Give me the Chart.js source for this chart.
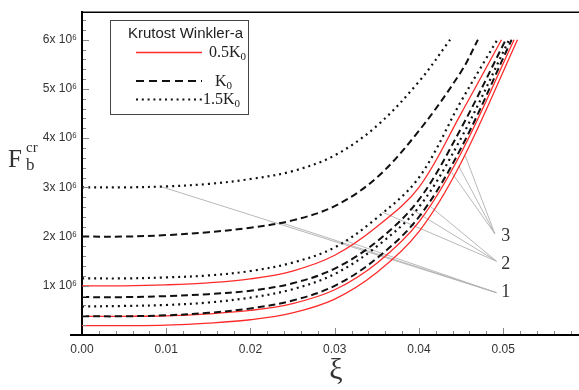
<!DOCTYPE html>
<html>
<head>
<meta charset="utf-8">
<script src="https://cdn.jsdelivr.net/npm/chart.js@4.4.1/dist/chart.umd.min.js"></script>
<style>
  html, body { margin: 0; padding: 0; background: #fff; }
</style>
</head>
<body>
<canvas id="chart" width="579" height="390"></canvas>
<script>
// xi grid shared by all curves; each curve ends where it reaches F = 6 x 10^6
const xi = [0, 0.005, 0.01, 0.015, 0.02, 0.025, 0.03, 0.035, 0.04, 0.045];
const fTop = 6.0;

// critical force, in units of 10^6
const curveA = [3.00, 3.00, 3.02, 3.07, 3.17, 3.33, 3.65, 4.25, 5.15];        // 1.5K0
const curveB = [2.00, 2.00, 2.03, 2.09, 2.18, 2.33, 2.62, 3.20, 4.15, 5.35];  // K0
const curveC = [1.15, 1.15, 1.17, 1.21, 1.30, 1.47, 1.78, 2.38, 3.20, 4.75];  // 1.5K0
const curveD = [1.00, 1.00, 1.02, 1.06, 1.14, 1.30, 1.62, 2.20, 3.00, 4.50];  // 0.5K0
const curveE = [0.77, 0.77, 0.79, 0.83, 0.90, 1.05, 1.35, 1.90, 2.75, 4.20];  // K0
const curveF = [0.58, 0.59, 0.61, 0.66, 0.76, 0.93, 1.24, 1.80, 2.60, 4.00];  // 1.5K0
const curveG = [0.38, 0.38, 0.40, 0.45, 0.54, 0.70, 1.00, 1.56, 2.40, 3.80];  // K0
const curveH = [0.38, 0.38, 0.39, 0.43, 0.50, 0.64, 0.92, 1.46, 2.30, 3.70];  // 0.5K0
const curveI = [0.19, 0.19, 0.20, 0.24, 0.31, 0.45, 0.73, 1.27, 2.10, 3.50];  // 0.5K0
const xiEnd = [0.0437, 0.047, 0.0493, 0.0498, 0.0503, 0.0507, 0.0510, 0.0513, 0.0517];
const kinds = ['dot', 'dash', 'dot', 'red', 'dash', 'dot', 'dash', 'red', 'red'];

// leader lines: start points on curves, then label anchor
const lead1 = [[0.0093, 3.02], [0.0235, 2.29], [0.0312, 1.92]];
const lead2 = [[0.0356, 2.50], [0.0389, 2.58], [0.0413, 2.62]];
const lead3 = [[0.0439, 3.30], [0.0447, 3.44], [0.0455, 3.64]];
const leadEnds = [[0.0492, 0.86], [0.0492, 1.50], [0.0490, 2.06]];
const leadLabels = ['1', '2', '3'];
const labelPos = [[0.0503, 0.86], [0.0503, 1.44], [0.0503, 2.00]];

const xTicks = [0, 0.01, 0.02, 0.03, 0.04, 0.05];
const yTicks = [0, 1, 2, 3, 4, 5, 6];

const styles = {
  red:  { borderColor: '#ff2b2b', borderWidth: 1.3, borderDash: [] },
  dash: { borderColor: '#111', borderWidth: 2, borderDash: [7, 4] },
  dot:  { borderColor: '#111', borderWidth: 2.2, borderDash: [2, 4] },
};

function toPoints(vals, end) {
  const pts = vals.map((v, i) => ({ x: xi[i], y: v }));
  pts.push({ x: end, y: fTop });
  return pts;
}

const curves = [curveA, curveB, curveC, curveD, curveE, curveF, curveG, curveH, curveI];
const datasets = curves.map((vals, i) => Object.assign({
  data: toPoints(vals, xiEnd[i]),
  pointRadius: 0,
  fill: false,
  tension: 0.35,
}, styles[kinds[i]]));

[lead1, lead2, lead3].forEach((group, g) => {
  group.forEach(p => {
    datasets.push({
      data: [{ x: p[0], y: p[1] }, { x: leadEnds[g][0], y: leadEnds[g][1] }],
      borderColor: '#b0b0b0',
      borderWidth: 0.9,
      pointRadius: 0,
      fill: false,
    });
  });
});

const SANS = '"Liberation Sans", Arial, sans-serif';
const SERIF = '"Liberation Serif", "Times New Roman", serif';

const decor = {
  id: 'decor',
  afterDraw(chart) {
    const { ctx, chartArea: a, scales: { x, y } } = chart;
    ctx.save();

    // top frame line and short stub of x axis left of origin
    ctx.strokeStyle = '#000';
    ctx.lineWidth = 1.5;
    ctx.beginPath(); ctx.moveTo(a.left, a.top); ctx.lineTo(a.right, a.top); ctx.stroke();
    ctx.lineWidth = 2;
    ctx.beginPath(); ctx.moveTo(a.left - 12, a.bottom); ctx.lineTo(a.left, a.bottom); ctx.stroke();

    // inward ticks, major + minor
    ctx.strokeStyle = '#888';
    ctx.lineWidth = 1;
    for (let i = 1; i * 0.002 <= x.max; i++) {
      const px = Math.round(x.getPixelForValue(i * 0.002)) + 0.5;
      const len = i % 5 === 0 ? 6 : 3;
      ctx.beginPath(); ctx.moveTo(px, a.bottom - 1); ctx.lineTo(px, a.bottom - 1 - len); ctx.stroke();
    }
    for (let i = 1; i * 0.2 <= y.max; i++) {
      const py = Math.round(y.getPixelForValue(i * 0.2)) + 0.5;
      const len = i % 5 === 0 ? 6 : 3;
      ctx.beginPath(); ctx.moveTo(a.left + 1, py); ctx.lineTo(a.left + 1 + len, py); ctx.stroke();
    }

    // axis titles
    ctx.fillStyle = '#333';
    ctx.textBaseline = 'alphabetic';
    ctx.textAlign = 'left';
    ctx.font = '25px ' + SERIF;
    ctx.fillText('F', 8, 167);
    ctx.font = '15px ' + SERIF;
    ctx.fillText('cr', 26, 152);
    ctx.font = '17px ' + SERIF;
    ctx.fillText('b', 26, 170);
    ctx.font = '30px ' + SERIF;
    ctx.textAlign = 'center';
    ctx.fillText('ξ', 336, 379);

    // group numbers at the leader lines
    ctx.font = '18px ' + SERIF;
    ctx.textBaseline = 'middle';
    leadLabels.forEach((t, i) => {
      ctx.fillText(t, x.getPixelForValue(labelPos[i][0]), y.getPixelForValue(labelPos[i][1]));
    });

    // legend box
    ctx.fillStyle = '#fff';
    ctx.fillRect(110, 20, 138, 94);
    ctx.strokeStyle = '#444';
    ctx.lineWidth = 1;
    ctx.strokeRect(110.5, 20.5, 138, 94);
    ctx.fillStyle = '#222';
    ctx.textAlign = 'left';
    ctx.textBaseline = 'alphabetic';
    ctx.font = '15px ' + SANS;
    ctx.fillText('Krutost Winkler-a', 128, 38);

    const rows = [
      { kind: 'red', y: 52.5, text: '0.5K', tx: 209, base: 57 },
      { kind: 'dash', y: 81, text: 'K', tx: 215, base: 86 },
      { kind: 'dot', y: 99.5, text: '1.5K', tx: 203, base: 104 },
    ];
    rows.forEach(r => {
      const s = styles[r.kind];
      ctx.strokeStyle = s.borderColor;
      ctx.lineWidth = r.kind === 'red' ? 1.5 : 2;
      ctx.setLineDash(r.kind === 'dash' ? [8, 5] : r.kind === 'dot' ? [2, 3.8] : []);
      ctx.beginPath(); ctx.moveTo(136, r.y); ctx.lineTo(202, r.y); ctx.stroke();
      ctx.setLineDash([]);
      ctx.fillStyle = '#222';
      ctx.font = '16px ' + SERIF;
      ctx.fillText(r.text, r.tx, r.base);
      const w = ctx.measureText(r.text).width;
      ctx.font = '11px ' + SERIF;
      ctx.fillText('0', r.tx + w, r.base + 3);
    });

    ctx.restore();
  }
};

new Chart(document.getElementById('chart'), {
  type: 'line',
  data: { datasets },
  options: {
    responsive: false,
    animation: false,
    layout: { padding: { top: 7, right: 0, left: 0, bottom: 0 } },
    plugins: { legend: { display: false }, tooltip: { enabled: false } },
    scales: {
      x: {
        type: 'linear',
        min: 0,
        max: 0.059,
        grid: { drawOnChartArea: false, drawTicks: false },
        border: { display: true, color: '#000', width: 2 },
        afterBuildTicks: s => { s.ticks = xTicks.map(v => ({ value: v })); },
        afterFit: s => { s.height = 55; },
        ticks: {
          autoSkip: false,
          maxRotation: 0,
          padding: 7,
          color: '#333',
          font: { family: SANS, size: 12 },
          callback: v => v.toFixed(2),
        },
      },
      y: {
        type: 'linear',
        min: 0,
        max: 6.56,
        grid: { drawOnChartArea: false, drawTicks: false },
        border: { display: true, color: '#000', width: 2 },
        afterBuildTicks: s => { s.ticks = yTicks.map(v => ({ value: v })); },
        afterFit: s => { s.width = 82; },
        ticks: {
          padding: 5,
          color: '#333',
          font: { family: SANS, size: 12 },
          callback: v => (v === 0 ? '' : v + 'x 10\u2076'),
        },
      },
    },
  },
  plugins: [decor],
});
</script>
</body>
</html>
